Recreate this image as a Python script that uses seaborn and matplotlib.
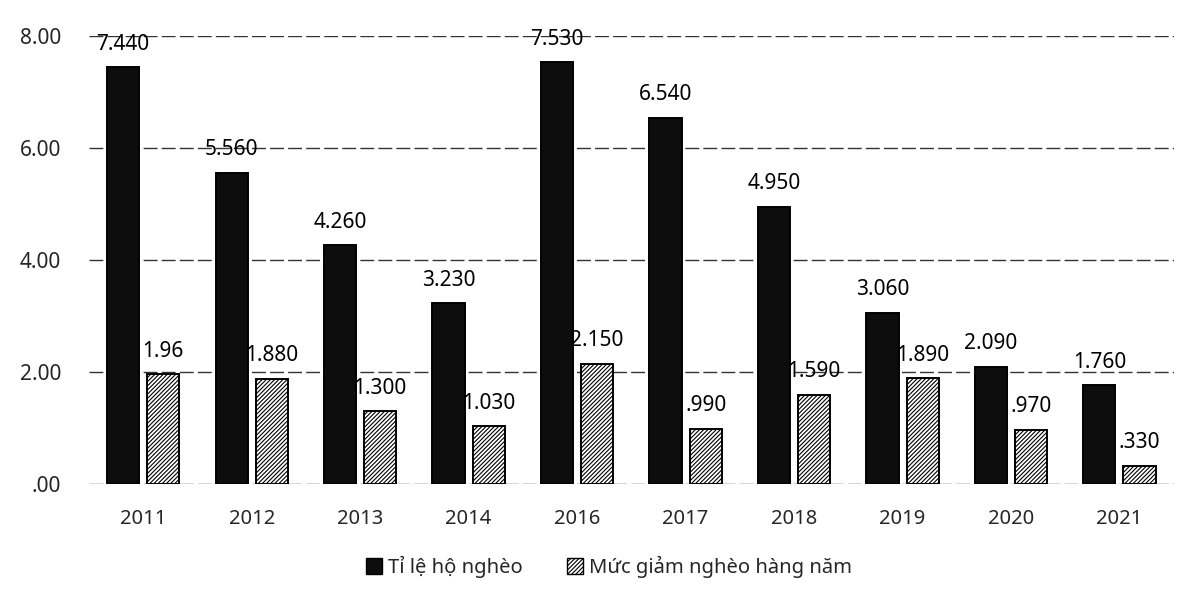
import matplotlib
matplotlib.use("Agg")
import matplotlib.pyplot as plt
from matplotlib.patches import Patch
import seaborn as sns
import pandas as pd

years = ["2011", "2012", "2013", "2014", "2016", "2017", "2018", "2019", "2020", "2021"]
poverty_rate = [7.44, 5.56, 4.26, 3.23, 7.53, 6.54, 4.95, 3.06, 2.09, 1.76]
annual_reduction = [1.96, 1.88, 1.30, 1.03, 2.15, 0.99, 1.59, 1.89, 0.97, 0.33]
rate_labels = ["7.440", "5.560", "4.260", "3.230", "7.530", "6.540", "4.950", "3.060", "2.090", "1.760"]
reduction_labels = ["1.96", "1.880", "1.300", "1.030", "2.150", ".990", "1.590", "1.890", ".970", ".330"]
series_names = ["Tỉ lệ hộ nghèo", "Mức giảm nghèo hàng năm"]
y_ticks = [0, 2, 4, 6, 8]
y_tick_labels = [".00", "2.00", "4.00", "6.00", "8.00"]

df = pd.DataFrame({
    "year": years * 2,
    "value": poverty_rate + annual_reduction,
    "series": [series_names[0]] * len(years) + [series_names[1]] * len(years),
})

sns.set_theme(style="white")
plt.rcParams["font.family"] = ["Noto Sans", "DejaVu Sans"]
plt.rcParams["hatch.linewidth"] = 0.8

fig = plt.figure(figsize=(11.94, 6.01), dpi=100)
ax = fig.add_axes([0.0745, 0.1947, 0.9085, 0.7453])

sns.barplot(data=df, x="year", y="value", hue="series", order=years,
            hue_order=series_names, palette=["#0d0d0d", "white"],
            edgecolor="black", linewidth=1.4, width=0.74, gap=0.2,
            legend=False, ax=ax, zorder=3)

for p in ax.containers[1]:
    p.set_hatch("////////")

for cont, labels in zip(ax.containers, [rate_labels, reduction_labels]):
    for p, lab in zip(cont, labels):
        ax.annotate(lab, (p.get_x() + p.get_width() / 2, p.get_height()),
                    xytext=(0, 9), textcoords="offset points",
                    ha="center", va="bottom", fontsize=15, color="black", zorder=4)

ax.set_ylim(0, 8)
ax.set_xlim(-0.5, len(years) - 0.5)
ax.set_yticks(y_ticks)
ax.set_yticklabels(y_tick_labels, fontsize=15)
ax.tick_params(axis="x", labelsize=14.5, length=0, pad=18)
ax.tick_params(axis="y", length=0, pad=20)
for y in y_ticks:
    ax.axhline(y, color="#333333", lw=1.0, ls=(0, (10, 3)), zorder=1)
for s in ax.spines.values():
    s.set_visible(False)
ax.set_xlabel("")
ax.set_ylabel("")

handles = [Patch(facecolor="#0d0d0d", edgecolor="black"),
           Patch(facecolor="white", edgecolor="black", hatch="////////")]
fig.legend(handles, series_names, loc="center", bbox_to_anchor=(0.51, 0.057),
           ncol=2, frameon=False, fontsize=14.5, handlelength=0.8, handleheight=0.8,
           handletextpad=0.3, columnspacing=2.2)

fig.savefig("out.png", dpi=100)
